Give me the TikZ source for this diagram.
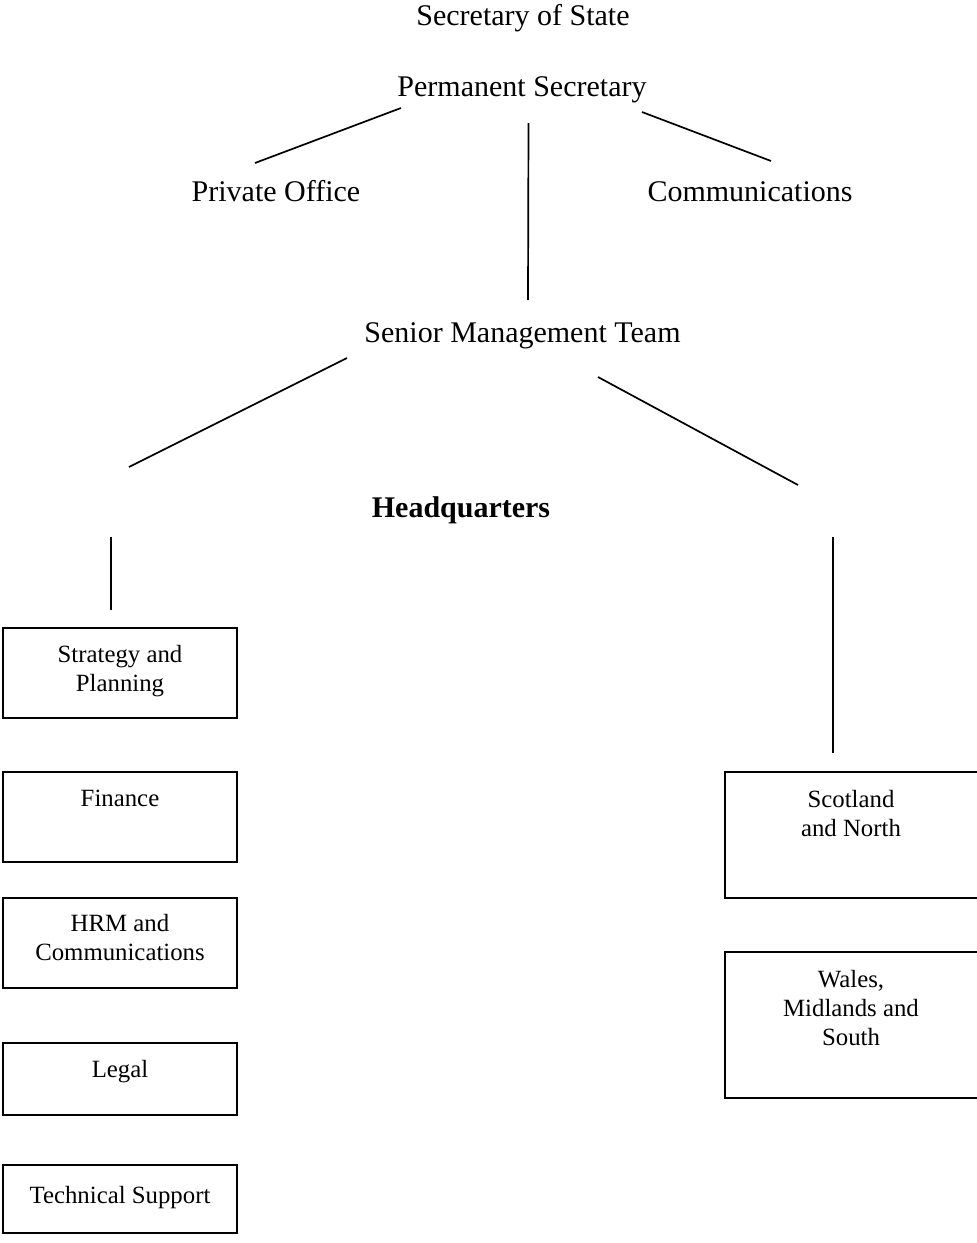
\documentclass[tikz,border=0pt]{standalone}
\usepackage{fontspec}
\setmainfont{Liberation Serif}
\begin{document}
\begin{tikzpicture}[x=1pt,y=-1pt,
  ln/.style={line width=1.7pt},
  big/.style={font=\fontsize{30}{34}\selectfont, anchor=base, inner sep=0pt},
  boxtxt/.style={font=\fontsize{24.8}{28.7}\selectfont, anchor=base, inner sep=0pt, align=center},
  box/.style={draw, line width=1.7pt, rectangle, inner sep=0pt}]
\useasboundingbox (0,0) rectangle (977,1243);
% titles
\node[big] (sos) at (523,25) {Secretary of State};
\node[big] (ps) at (522,96) {Permanent Secretary};
\node[big] (po) at (276,201) {Private Office};
\node[big] (comm) at (750,201) {Communications};
\node[big] (smt) at (522.5,342) {Senior Management Team};
\node[big, font=\fontsize{30}{34}\selectfont\bfseries] (hq) at (461,517) {Headquarters};
% connector end points
\coordinate (a1) at (401,108); \coordinate (a2) at (255,163);
\coordinate (b1) at (528.5,123); \coordinate (b2) at (528,300);
\coordinate (c1) at (642,112); \coordinate (c2) at (771,161);
\coordinate (d1) at (347,358); \coordinate (d2) at (129,467);
\coordinate (e1) at (598,377); \coordinate (e2) at (798,485);
\coordinate (f1) at (111,537); \coordinate (f2) at (111,610);
\coordinate (g1) at (833,537); \coordinate (g2) at (833,753);
\draw[ln] (a1) -- (a2);
\draw[ln] (b1) -- (b2);
\draw[ln] (c1) -- (c2);
\draw[ln] (d1) -- (d2);
\draw[ln] (e1) -- (e2);
\draw[ln] (f1) -- (f2);
\draw[ln] (g1) -- (g2);
% left boxes
\node[box, minimum width=234pt, minimum height=90pt] (strat) at (120,673) {};
\node[boxtxt] (stratt) at (120,691) {Strategy and\\Planning};
\node[box, minimum width=234pt, minimum height=90pt] (fin) at (120,817) {};
\node[boxtxt] (fint) at (120,806) {Finance};
\node[box, minimum width=234pt, minimum height=90pt] (hrm) at (120,943) {};
\node[boxtxt] (hrmt) at (120,960) {HRM and\\Communications};
\node[box, minimum width=234pt, minimum height=72pt] (legal) at (120,1079) {};
\node[boxtxt] (legalt) at (120,1077) {Legal};
\node[box, minimum width=234pt, minimum height=68pt] (tech) at (120,1199) {};
\node[boxtxt] (techt) at (120,1203) {Technical Support};
% right boxes
\node[box, minimum width=255pt, minimum height=126pt] (scot) at (852.5,835) {};
\node[boxtxt] (scott) at (851,836) {Scotland\\and North};
\node[box, minimum width=255pt, minimum height=146pt] (wales) at (852.5,1025) {};
\node[boxtxt] (walest) at (851,1045) {Wales,\\Midlands and\\South};
\end{tikzpicture}
\end{document}
